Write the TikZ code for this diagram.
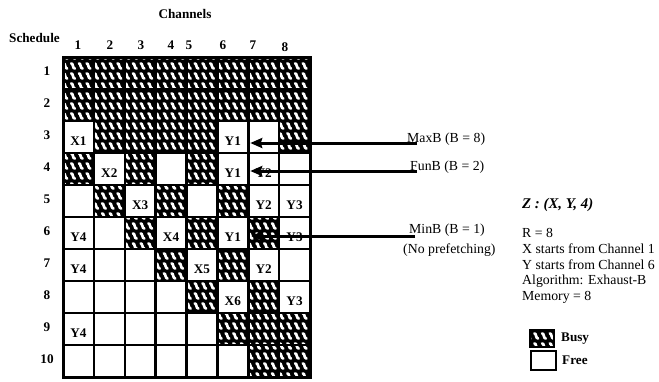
\documentclass[tikz,border=0pt]{standalone}
\usepackage{fontspec}
\setmainfont{Liberation Serif}
\usetikzlibrary{patterns,arrows.meta}

\pgfdeclarepatternformonly{busywave}{\pgfpoint{-2pt}{-2pt}}{\pgfpoint{10pt}{12pt}}{\pgfpoint{7.72pt}{10pt}}{%
  \pgfsetlinewidth{2.7pt}\pgfsetroundcap
  \pgfpathmoveto{\pgfpoint{1.7pt}{7.6pt}}
  \pgfpathcurveto{\pgfpoint{3.8pt}{7.8pt}}{\pgfpoint{2.9pt}{2.6pt}}{\pgfpoint{5.4pt}{2.4pt}}
  \pgfusepath{stroke}
}

\tikzset{
  cell/.style={draw=none, minimum width=30.875pt, minimum height=32pt, inner sep=0pt, outer sep=0pt},
  gridline/.style={line width=2.5pt, line cap=rect},
  txt/.style={font=\fontsize{13.8}{15}\selectfont, inner sep=0pt},
  btxt/.style={font=\fontsize{13.2}{15}\selectfont\bfseries, inner sep=0pt},
  clbl/.style={font=\fontsize{13.2}{15}\selectfont\bfseries, inner sep=0pt},
  arr/.style={line width=3pt, -{Stealth[length=12pt,width=10pt,inset=1.5pt]}},
  busyfill/.style={fill=black, postaction={pattern=busywave, pattern color=white}},
}

\begin{document}
\begin{tikzpicture}[x=1pt, y=-1pt]
\useasboundingbox (0,0) rectangle (659,381);

% headings
\node[btxt] (channels) at (185,14) {Channels};
\node[btxt, anchor=west] (schedule) at (9,38) {Schedule};
\foreach \c/\x/\y in {1/78/45, 2/110/45, 3/141/45, 4/171/45, 5/189/45, 6/223/45, 7/253/45, 8/285/47}
  \node[btxt] (h\c) at (\x,\y) {\c};
\foreach \r in {1,...,10}
  \node[btxt] (r\r) at (47,{57+(\r-0.5)*32-2}) {\r};

% cells
\foreach \r in {1,...,10}
  \foreach \c in {1,...,8}
    \node[cell] (c-\r-\c) at ({63+(\c-0.5)*30.875},{57+(\r-0.5)*32}) {};

% busy cells
\foreach \r/\c in {1/1,1/2,1/3,1/4,1/5,1/6,1/7,1/8,
                   2/1,2/2,2/3,2/4,2/5,2/6,2/7,2/8,
                   3/2,3/3,3/4,3/5,3/8,
                   4/1,4/3,4/5,
                   5/2,5/4,5/6,
                   6/3,6/5,6/7,
                   7/4,7/6,
                   8/5,8/7,
                   9/6,9/7,9/8,
                   10/7,10/8}
  \path[busyfill] (c-\r-\c.north west) rectangle (c-\r-\c.south east);

% grid
\foreach \i in {0,...,8}
  \draw[gridline] ({63+\i*30.875},57) -- ({63+\i*30.875},377);
\foreach \j in {0,...,10}
  \draw[gridline] (63,{57+\j*32}) -- (310,{57+\j*32});
\draw[line width=3pt] (63,57) rectangle (310,377);

% cell labels
\foreach \r/\c/\t in {3/1/X1, 3/6/Y1, 4/2/X2, 4/6/Y1, 4/7/Y2, 5/3/X3, 5/7/Y2, 5/8/Y3,
                      6/1/Y4, 6/4/X4, 6/6/Y1, 6/8/Y3, 7/1/Y4, 7/5/X5, 7/7/Y2,
                      8/6/X6, 8/8/Y3, 9/1/Y4}
  \node[clbl] at ([yshift=-4pt]c-\r-\c.center) {\t};

% arrow labels and arrows
\node[txt, anchor=base west] (maxb) at (407,142) {MaxB (B = 8)};
\node[txt, anchor=base west] (funb) at (410,170) {FunB (B = 2)};
\node[txt, anchor=base west] (minb) at (409,233) {MinB (B = 1)};
\node[txt, anchor=base west] (nopf) at (403,253) {(No prefetching)};

\coordinate (maxs) at (417,143);
\coordinate (funs) at (417,171);
\coordinate (mins) at (415,236);
\draw[arr] (maxs) -- ([xshift=2pt]maxs -| c-3-6.east);
\draw[arr] (funs) -- ([xshift=2pt]funs -| c-4-6.east);
\draw[arr] (mins) -- ([xshift=3pt]mins -| c-6-6.east);

% right text
\node[font=\fontsize{14.8}{16}\selectfont\bfseries\itshape, anchor=west, inner sep=0pt] (z) at (522,205) {Z : (X, Y, 4)};
\node[txt, anchor=west] (t1) at (522,233) {R = 8};
\node[txt, anchor=west] (t2) at (522,249) {X starts from Channel 1};
\node[txt, anchor=west] (t3) at (522,265) {Y starts from Channel 6};
\node[txt, anchor=west] (t4) at (522,281) {Algorithm: Exhaust-B};
\node[txt, anchor=west] (t5) at (522,297) {Memory = 8};

% legend
\path[busyfill] (530,330) rectangle (554,347);
\draw[line width=2pt] (530,330) rectangle (554,347);
\node[btxt, anchor=west] (busy) at (561,339) {Busy};
\draw[line width=2pt] (531,351) rectangle (556,370);
\node[btxt, anchor=west] (free) at (562,360) {Free};
\end{tikzpicture}
\end{document}
